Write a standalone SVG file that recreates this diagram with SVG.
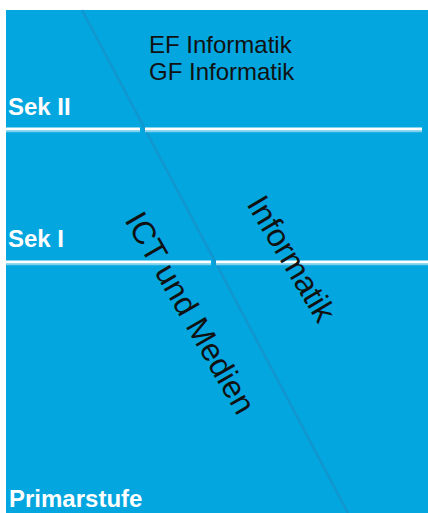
<svg xmlns="http://www.w3.org/2000/svg" width="428" height="513" viewBox="0 0 428 513">
<style>
.lvl{font-family:"Liberation Sans",Arial,sans-serif;font-weight:bold;font-size:24px;fill:#ffffff}
.txt{font-family:"Liberation Sans",Arial,sans-serif;font-size:24px;fill:#111111}
.rot{font-family:"Liberation Sans",Arial,sans-serif;font-size:32px;fill:#111111}
.hl{stroke:#ffffff;stroke-width:3;fill:none}
.hs{stroke:#7fd0ee;stroke-width:1.5;fill:none}
</style>
<rect x="0" y="0" width="428" height="513" fill="#ffffff"/>
<rect x="6" y="10" width="422" height="503" fill="#03a6df"/>
<g id="connectors">
<line x1="82" y1="10" x2="348" y2="513" stroke="#1792cc" stroke-width="2.5" stroke-opacity="0.8"/>
<path class="hs" d="M6 131.5H140M145 131.5H422M6 264.5H211M216 264.5H428"/>
<path class="hl" d="M6 129H140M145 129H422M6 262H211M216 262H428"/>
</g>
<g id="sek2"><text class="lvl" x="8" y="115">Sek II</text></g>
<g id="sek1"><text class="lvl" x="8" y="247">Sek I</text></g>
<g id="primar"><text class="lvl" x="9" y="507">Primarstufe</text></g>
<g id="faecher"><text class="txt" x="149" y="53">EF Informatik</text><text class="txt" x="149" y="80">GF Informatik</text></g>
<g id="ict"><text class="rot" transform="translate(124,220) rotate(60)">ICT und Medien</text></g>
<g id="informatik"><text class="rot" transform="translate(246,204) rotate(59)">Informatik</text></g>
</svg>
